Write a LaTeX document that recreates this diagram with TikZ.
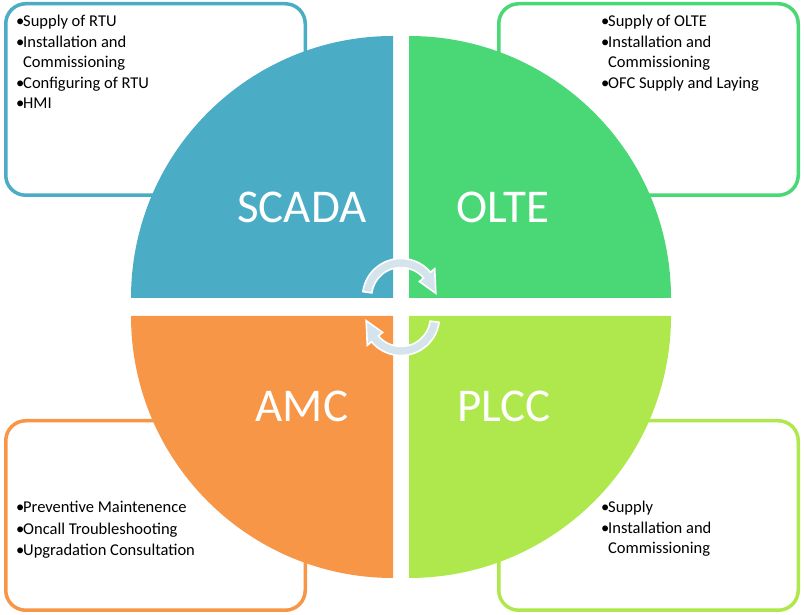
\documentclass[tikz,border=0pt]{standalone}
\usepackage{fontspec}
\setmainfont{Carlito}
\usepackage{tikz}
\definecolor{scadac}{HTML}{4BACC6}
\definecolor{oltec}{HTML}{4AD876}
\definecolor{amcc}{HTML}{F79646}
\definecolor{plccc}{HTML}{AFE84C}
\definecolor{turnc}{HTML}{D5E3EC}
\tikzset{
  panel/.style={draw=#1, line width=3.5pt, rounded corners=20pt, fill=white},
  quarter/.style={fill=#1, draw=none},
  biglabel/.style={font=\fontsize{47}{47}\selectfont, text=white, inner sep=0pt},
  itemlist/.style={font=\fontsize{16.5}{20.5}\selectfont, align=left, inner sep=0pt, anchor=north west},
  turn/.style={fill=turnc, draw=white, line width=1.6pt},
}
\def\rr{262}
\def\xL{393}
\def\xR{409}
\def\yT{317}
\def\yB{299}
\newcommand{\blt}[1]{\makebox[7pt][l]{\textbullet}#1}
\newcommand{\cnt}[1]{\hspace*{7pt}#1}
\newcommand{\turnarrow}[2]{%
  \begin{scope}[shift={(#1)}, rotate=#2]
    \draw[turn] (172:38.5) arc[start angle=172, end angle=40, radius=38.5] -- (40:44)
      -- (6:35) -- (40:24) -- (40:29.5) arc[start angle=40, end angle=172, radius=29.5] -- cycle;
  \end{scope}}

\begin{document}
\begin{tikzpicture}[x=1pt, y=1pt]
  \useasboundingbox (0,0) rectangle (804,615);
  % corner panels
  \draw[panel=scadac] (5.75,419.75) rectangle (305.25,611.25);
  \draw[panel=oltec] (498.75,419.75) rectangle (798.25,611.25);
  \draw[panel=amcc] (5.75,4.75) rectangle (305.25,194.25);
  \draw[panel=plccc] (498.75,4.75) rectangle (798.25,194.25);
  % the four quarters
  \fill[quarter=scadac] (\xL,\yT) -- ++(0,\rr) arc[start angle=90, end angle=180, radius=\rr] -- cycle;
  \fill[quarter=oltec] (\xR,\yT) -- ++(\rr,0) arc[start angle=0, end angle=90, radius=\rr] -- cycle;
  \fill[quarter=amcc] (\xL,\yB) -- ++(-\rr,0) arc[start angle=180, end angle=270, radius=\rr] -- cycle;
  \fill[quarter=plccc] (\xR,\yB) -- ++(0,-\rr) arc[start angle=270, end angle=360, radius=\rr] -- cycle;
  \node[biglabel] (scada) at (302,408) {SCADA};
  \node[biglabel] (olte) at (503,408) {OLTE};
  \node[biglabel] (amc) at (302,209) {AMC};
  \node[biglabel] (plcc) at (504,209) {PLCC};
  \turnarrow{401,318}{0}
  \turnarrow{401,298}{180}
  % item lists
  \node[itemlist] (scadalist) at (16,600)
    {\blt{Supply of RTU}\\\blt{Installation and}\\\cnt{Commissioning}\\\blt{Configuring of RTU}\\\blt{HMI}};
  \node[itemlist] (oltelist) at (601,600)
    {\blt{Supply of OLTE}\\\blt{Installation and}\\\cnt{Commissioning}\\\blt{OFC Supply and Laying}};
  \node[itemlist, font=\fontsize{16.5}{21.5}\selectfont] (amclist) at (16,114)
    {\blt{Preventive Maintenence}\\\blt{Oncall Troubleshooting}\\\blt{Upgradation Consultation}};
  \node[itemlist] (plcclist) at (601,114)
    {\blt{Supply}\\\blt{Installation and}\\\cnt{Commissioning}};
\end{tikzpicture}
\end{document}
